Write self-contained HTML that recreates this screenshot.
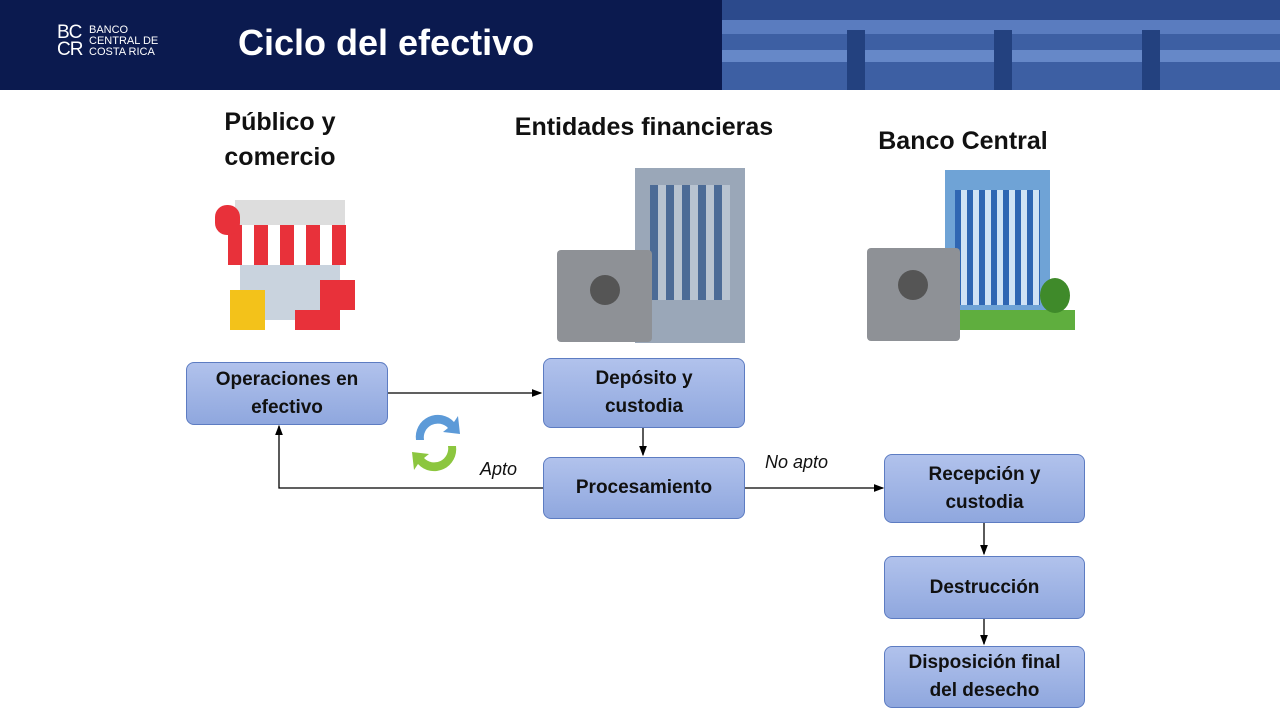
<!DOCTYPE html>
<html><head><meta charset="utf-8"><style>
body{margin:0;width:1280px;height:720px;position:relative;background:#fff;font-family:"Liberation Sans",sans-serif;overflow:hidden}
.hd{position:absolute;left:0;top:0;width:1280px;height:90px;background:#0b1a4f}
.img{position:absolute;left:722px;top:0;width:558px;height:90px;background:#3d5fa3}
.b{position:absolute;box-sizing:border-box;border:1px solid #5d7cc2;border-radius:8px;background:linear-gradient(#b1c2ec,#8fa7de);display:flex;align-items:center;justify-content:center;text-align:center;font-weight:bold;font-size:19px;color:#111;line-height:28px}
.t{position:absolute;font-weight:bold;font-size:25px;color:#111;text-align:center;line-height:35px}
.i{position:absolute;font-style:italic;font-size:18px;color:#111}
.r{position:absolute}
</style></head><body>
<div class="hd"></div>
<div class="img">
<div class="r" style="left:0;top:20px;width:558px;height:14px;background:#5a7cbf"></div>
<div class="r" style="left:0;top:50px;width:558px;height:12px;background:#6688c8"></div>
<div class="r" style="left:0;top:0;width:558px;height:20px;background:#2c4a8c"></div>
<div class="r" style="left:125px;top:30px;width:18px;height:60px;background:#23417f"></div>
<div class="r" style="left:272px;top:30px;width:18px;height:60px;background:#23417f"></div>
<div class="r" style="left:420px;top:30px;width:18px;height:60px;background:#23417f"></div>
</div>
<div style="position:absolute;left:57px;top:24px;color:#fff;font-size:19px;line-height:17px;letter-spacing:-1px">BC<br>CR</div>
<div style="position:absolute;left:89px;top:25px;color:#fff;font-size:11px;line-height:11px">BANCO<br>CENTRAL DE<br>COSTA RICA</div>
<div style="position:absolute;left:238px;top:22px;color:#fff;font-size:36px;font-weight:bold">Ciclo del efectivo</div>

<div class="t" style="left:180px;top:105px;width:200px">Público y<br>comercio</div>
<div class="t" style="left:494px;top:110px;width:300px">Entidades financieras</div>
<div class="t" style="left:843px;top:124px;width:240px">Banco Central</div>

<!-- store -->
<div class="r" style="left:235px;top:200px;width:110px;height:25px;background:#ddd"></div>
<div class="r" style="left:228px;top:225px;width:125px;height:40px;background:repeating-linear-gradient(90deg,#e8313a 0 14px,#fff 14px 26px)"></div>
<div class="r" style="left:240px;top:265px;width:100px;height:55px;background:#c9d3de"></div>
<div class="r" style="left:230px;top:290px;width:35px;height:40px;background:#f3c21a"></div>
<div class="r" style="left:320px;top:280px;width:35px;height:30px;background:#e8313a"></div>
<div class="r" style="left:295px;top:310px;width:45px;height:20px;background:#e8313a"></div>
<div class="r" style="left:215px;top:205px;width:25px;height:30px;background:#e8313a;border-radius:12px"></div>
<!-- bank -->
<div class="r" style="left:635px;top:168px;width:110px;height:175px;background:#9aa7b8"></div>
<div class="r" style="left:650px;top:185px;width:80px;height:115px;background:repeating-linear-gradient(90deg,#4c6b96 0 8px,#b8c3d0 8px 16px)"></div>
<div class="r" style="left:557px;top:250px;width:95px;height:92px;background:#8e9196;border-radius:4px"></div>
<div class="r" style="left:590px;top:275px;width:30px;height:30px;background:#555;border-radius:50%"></div>
<!-- central -->
<div class="r" style="left:945px;top:170px;width:105px;height:150px;background:#6fa3d6"></div>
<div class="r" style="left:955px;top:190px;width:85px;height:115px;background:repeating-linear-gradient(90deg,#2f66b3 0 6px,#cfe2f5 6px 12px)"></div>
<div class="r" style="left:867px;top:248px;width:93px;height:93px;background:#8e9196;border-radius:4px"></div>
<div class="r" style="left:898px;top:270px;width:30px;height:30px;background:#555;border-radius:50%"></div>
<div class="r" style="left:960px;top:310px;width:115px;height:20px;background:#5fae3e"></div>
<div class="r" style="left:1040px;top:278px;width:30px;height:35px;background:#3f8a2a;border-radius:50%"></div>

<svg width="1280" height="720" style="position:absolute;left:0;top:0">
<defs><marker id="a" markerWidth="8" markerHeight="8" refX="7" refY="4" orient="auto"><path d="M0,1 L8,4 L0,7z" fill="#000"/></marker></defs>
<g stroke="#000" stroke-width="1.3" fill="none">
<line x1="387" y1="393" x2="541" y2="393" marker-end="url(#a)"/>
<line x1="643" y1="428" x2="643" y2="455" marker-end="url(#a)"/>
<polyline points="543,488 279,488 279,426" marker-end="url(#a)"/>
<line x1="744" y1="488" x2="883" y2="488" marker-end="url(#a)"/>
<line x1="984" y1="523" x2="984" y2="554" marker-end="url(#a)"/>
<line x1="984" y1="619" x2="984" y2="644" marker-end="url(#a)"/>
</g>
<path d="M416,440 a22,22 0 0 1 38,-18 l4,-6 l2,18 l-17,-2 l5,-4 a14,14 0 0 0 -24,12z" fill="#5c9ad8"/>
<path d="M456,446 a22,22 0 0 1 -38,18 l-4,6 l-2,-18 l17,2 l-5,4 a14,14 0 0 0 24,-12z" fill="#8cc63f"/>
</svg>

<div class="b" style="left:186px;top:362px;width:202px;height:63px">Operaciones en<br>efectivo</div>
<div class="b" style="left:543px;top:358px;width:202px;height:70px">Depósito y<br>custodia</div>
<div class="b" style="left:543px;top:457px;width:202px;height:62px">Procesamiento</div>
<div class="b" style="left:884px;top:454px;width:201px;height:69px">Recepción y<br>custodia</div>
<div class="b" style="left:884px;top:556px;width:201px;height:63px">Destrucción</div>
<div class="b" style="left:884px;top:646px;width:201px;height:62px">Disposición final<br>del desecho</div>
<div class="i" style="left:480px;top:459px">Apto</div>
<div class="i" style="left:765px;top:452px">No apto</div>
</body></html>
